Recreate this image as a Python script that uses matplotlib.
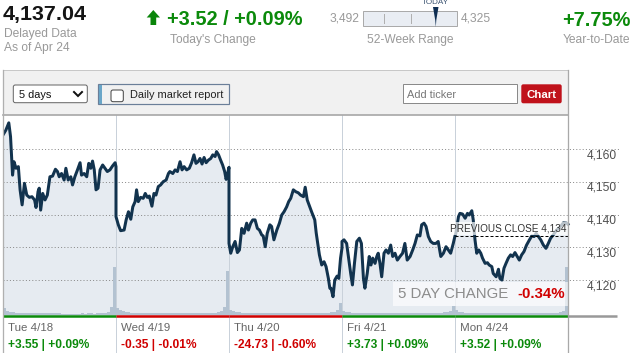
import numpy as np
import matplotlib.pyplot as plt
from matplotlib.patches import Rectangle, FancyBboxPatch, Polygon
from matplotlib.transforms import ScaledTranslation

plt.rcParams['font.family'] = ['Liberation Sans', 'DejaVu Sans']

W, H, DPI = 633, 353, 100


def pt(px):
    # pixel size -> points
    return px * 72 / DPI


# ---- data ----
days = ["Tue 4/18", "Wed 4/19", "Thu 4/20", "Fri 4/21", "Mon 4/24"]
day_chg = [3.55, -0.35, -24.73, 3.73, 3.52]
day_pct = [0.09, -0.01, -0.60, 0.09, 0.09]

last_price = 4137.04
today_chg = 3.52
today_pct = 0.09
low_52, high_52 = 3492, 4325
ytd_pct = 7.75
prev_close = 4133.52
five_day_pct = -0.34

# minutes since the open, index level
tue_t = [0, 10, 20, 26, 33, 38, 45, 53, 59, 66, 74, 82, 91, 100, 109, 114, 121, 125, 130, 137,
         145, 153, 162, 171, 181, 188, 194, 202, 211, 217, 225, 234, 240, 248, 257, 266, 271, 280,
         289, 296, 303, 309, 315, 321, 328, 335, 344, 352, 360, 369, 378, 387, 390]
tue_p = [4164.4, 4165.9, 4168.1, 4163.9, 4152.1, 4156.2, 4154.2, 4154.7, 4147.6, 4143.0,
         4149.6, 4146.0, 4145.3, 4145.5, 4144.5, 4142.2, 4147.1, 4148.1, 4141.4, 4146.5,
         4144.5, 4146.0, 4151.6, 4151.8, 4153.9, 4153.2, 4151.6, 4152.6, 4150.6, 4154.2,
         4150.6, 4151.6, 4149.1, 4151.6, 4153.7, 4155.9, 4152.1, 4152.6, 4151.6, 4155.7,
         4154.2, 4156.4, 4153.7, 4147.6, 4148.1, 4153.7, 4155.2, 4154.2, 4153.2, 4153.7,
         4154.9, 4155.9, 4154.7]

wed_t = [0, 8, 16, 28, 35, 43, 51, 58, 66, 71, 77, 85, 94, 101, 108, 115, 124, 131, 138, 146,
         154, 163, 173, 181, 186, 196, 204, 212, 221, 228, 235, 244, 253, 261, 269, 276, 283, 290,
         297, 304, 311, 319, 327, 334, 342, 347, 354, 361, 368, 375, 380, 384, 390]
wed_p = [4139.4, 4136.9, 4135.1, 4135.3, 4138.4, 4140.9, 4138.6, 4142.4, 4144.0, 4147.6,
         4144.0, 4145.3, 4145.0, 4146.5, 4145.3, 4145.7, 4142.6, 4146.5, 4146.0, 4148.6,
         4149.1, 4150.1, 4150.6, 4152.6, 4153.2, 4152.6, 4153.7, 4153.2, 4156.2, 4153.7,
         4154.7, 4153.7, 4154.2, 4155.9, 4158.3, 4155.7, 4156.2, 4157.2, 4155.5, 4157.5,
         4155.9, 4156.7, 4157.2, 4158.3, 4157.8, 4159.3, 4158.3, 4156.7, 4155.2, 4153.2,
         4150.8, 4152.1, 4154.5]

thu_t = [0, 6, 13, 21, 29, 36, 44, 52, 61, 67, 75, 82, 90, 98, 105, 113, 118, 125, 132, 141,
         147, 155, 165, 174, 182, 190, 199, 206, 213, 222, 231, 239, 247, 257, 263, 270, 285, 296,
         301, 312, 320, 328, 335, 343, 348, 352, 359, 365, 373, 379, 385, 390]
thu_p = [4131.2, 4128.2, 4130.2, 4131.8, 4128.4, 4129.2, 4135.8, 4134.3, 4137.4, 4135.3,
         4137.4, 4138.4, 4138.4, 4135.8, 4135.3, 4133.8, 4133.5, 4130.2, 4134.3, 4136.9,
         4136.4, 4132.3, 4135.3, 4137.4, 4139.9, 4140.9, 4142.4, 4144.0, 4145.0, 4147.6,
         4147.0, 4146.7, 4146.0, 4145.5, 4148.4, 4144.5, 4140.9, 4138.4, 4134.4, 4127.7,
         4124.6, 4125.6, 4124.1, 4120.5, 4117.5, 4117.5, 4114.9, 4120.0, 4121.2, 4120.5,
         4126.7, 4129.8]

fri_t = [0, 7, 16, 22, 30, 36, 43, 51, 60, 67, 74, 79, 87, 94, 100, 106, 114, 120, 125, 131,
         137, 145, 152, 160, 168, 175, 183, 191, 200, 209, 217, 225, 235, 244, 252, 260, 269, 275,
         283, 290, 298, 306, 315, 324, 332, 341, 350, 359, 367, 375, 384, 390]
fri_p = [4131.8, 4132.3, 4131.2, 4127.2, 4122.0, 4118.5, 4125.1, 4131.8, 4132.8, 4131.2,
         4120.5, 4117.5, 4122.0, 4127.2, 4124.6, 4126.7, 4125.1, 4127.2, 4128.2, 4125.1,
         4121.0, 4128.2, 4129.2, 4128.2, 4130.7, 4127.2, 4128.2, 4126.1, 4127.2, 4128.2,
         4131.2, 4126.1, 4127.2, 4129.2, 4131.2, 4133.8, 4133.5, 4136.9, 4137.4, 4136.4,
         4133.3, 4131.8, 4131.2, 4131.2, 4131.8, 4127.2, 4128.2, 4130.2, 4129.2, 4128.2,
         4131.2, 4133.5]

mon_t = [0, 3, 12, 17, 26, 35, 43, 49, 58, 63, 69, 75, 82, 89, 95, 104, 112, 118, 127, 132,
         142, 150, 155, 162, 169, 176, 184, 192, 199, 207, 215, 222, 230, 238, 247, 257, 265, 273,
         280, 288, 296, 305, 314, 322, 330, 339, 351, 362, 374, 385, 390]
mon_p = [4133.5, 4134.3, 4139.4, 4140.4, 4140.2, 4138.9, 4140.4, 4139.9, 4141.2, 4138.4,
         4132.3, 4128.2, 4129.2, 4128.2, 4126.7, 4125.1, 4125.3, 4124.6, 4124.1, 4122.0,
         4121.0, 4123.3, 4120.5, 4120.0, 4123.6, 4125.1, 4126.7, 4127.7, 4127.2, 4128.4,
         4127.2, 4126.1, 4127.7, 4128.7, 4130.7, 4132.3, 4133.5, 4133.3, 4134.3, 4133.3,
         4132.3, 4130.7, 4129.7, 4131.2, 4132.8, 4133.8, 4135.3, 4136.2, 4137.5, 4137.4,
         4137.04]

# volume per 10-minute bucket (39 per session), arbitrary units
tue_v = [67, 37, 30, 26, 24, 23, 25, 23, 22, 21, 22, 20, 21, 20, 19, 18, 18, 17, 17, 16,
         14, 15, 15, 15, 15, 15, 15, 16, 15, 17, 19, 15, 17, 18, 21, 22, 28, 80, 480]
wed_v = [67, 47, 37, 33, 28, 24, 22, 22, 20, 20, 19, 18, 18, 19, 17, 17, 17, 17, 16, 16,
         16, 17, 16, 16, 17, 16, 16, 17, 18, 18, 17, 18, 19, 20, 24, 35, 45, 80, 440]
thu_v = [50, 40, 32, 27, 25, 23, 22, 21, 21, 20, 20, 20, 19, 19, 18, 18, 18, 18, 18, 17,
         18, 18, 17, 17, 18, 18, 18, 19, 19, 20, 20, 20, 21, 22, 24, 28, 35, 50, 120]
fri_v = [45, 32, 26, 24, 22, 22, 21, 20, 20, 19, 19, 18, 18, 17, 17, 18, 17, 17, 17, 16,
         17, 17, 16, 16, 17, 18, 17, 18, 18, 19, 20, 20, 20, 22, 24, 27, 32, 45, 90]
mon_v = [47, 33, 27, 24, 22, 21, 20, 20, 19, 18, 18, 18, 17, 17, 17, 16, 16, 16, 16, 16,
         16, 16, 16, 16, 16, 17, 17, 17, 17, 18, 18, 18, 19, 20, 22, 24, 28, 40, 480]

times = [tue_t, wed_t, thu_t, fri_t, mon_t]
prices = [tue_p, wed_p, thu_p, fri_p, mon_p]
volumes = [tue_v, wed_v, thu_v, fri_v, mon_v]
grid_vals = [4120, 4130, 4140, 4150, 4160]

SESSION = 390
GREEN = '#0b8a0b'
RED = '#d00000'
GRAY = '#999999'

xs, ys = [], []
for i, (t, p) in enumerate(zip(times, prices)):
    xs += [i * SESSION + v for v in t]
    ys += p
end_x = len(days) * SESSION

fig = plt.figure(figsize=(W / DPI, H / DPI), dpi=DPI)


def frame(x0, y0, x1, y1):
    return [x0 / W, 1 - y1 / H, (x1 - x0) / W, (y1 - y0) / H]


# ---- price chart ----
ax = fig.add_axes(frame(3, 115, 620, 315))
ax.set_facecolor('none')
ax.set_xlim(0, end_x * 617 / 565)
ax.set_ylim(4109.3, 4170.5)
for s in ax.spines.values():
    s.set_visible(False)
ax.set_xticks([])
ax.set_yticks(grid_vals)
ax.tick_params(length=0, labelleft=False)
ax.yaxis.grid(True, color='#8a8a8a', linestyle=(0, (1, 2.2)), linewidth=pt(1))

ax.fill_between(xs, ys, 4100, color='#e6ebf1', lw=0, zorder=1)
ax.plot(xs, ys, color='#12334e', lw=pt(3.0), solid_joinstyle='round', zorder=3)

label_tr = ax.get_yaxis_transform() + ScaledTranslation(-3 / DPI, -6 / DPI, fig.dpi_scale_trans)
for v in grid_vals:
    ax.text(1, v, f"{v:,}", transform=label_tr, ha='right', va='center',
            fontsize=pt(12), color='#505050')

xtr = ax.get_xaxis_transform()
for i in range(1, len(days)):
    ax.axvline(i * SESSION, ymin=-0.19, ymax=1, color='#c9d1da', lw=pt(1),
               clip_on=False, zorder=1.6)

for i, c in enumerate(day_chg):
    col = GREEN if c >= 0 else RED
    ax.plot([i * SESSION, (i + 1) * SESSION], [-0.0065, -0.0065], transform=xtr,
            color=col, lw=pt(2.5), solid_capstyle='butt', clip_on=False)
    lab_tr = xtr + ScaledTranslation(5 / DPI, -16 / DPI, fig.dpi_scale_trans)
    ax.text(i * SESSION, 0, days[i], transform=lab_tr, fontsize=pt(11.5),
            color='#666666', va='baseline')
    chg_tr = xtr + ScaledTranslation(5 / DPI, -33 / DPI, fig.dpi_scale_trans)
    ax.text(i * SESSION, 0, f"{c:+.2f} | {day_pct[i]:+.2f}%", transform=chg_tr,
            fontsize=pt(12), color=col, fontweight='bold', va='baseline')

ax.plot([4 * SESSION, end_x], [prev_close, prev_close], color='black', lw=pt(1),
        dashes=(3, 2), zorder=4)
ax.annotate(f"PREVIOUS CLOSE {prev_close:,.0f}", xy=(end_x, prev_close), xytext=(-2, 2),
            textcoords='offset pixels', ha='right', va='bottom', fontsize=pt(10),
            color='#333333', zorder=5,
            bbox=dict(boxstyle='square,pad=0.15', fc='white', ec='none', alpha=0.7))

# volume bars
vax = ax.twinx()
vax.set_ylim(0, 2000)
vax.axis('off')
for i, v in enumerate(volumes):
    lefts = i * SESSION + np.arange(len(v)) * 10
    vax.bar(lefts, v, width=10, align='edge', color='#b3c2d1', lw=0)

# ---- page chrome, header, toolbar (pixel coordinates) ----
ui = fig.add_axes([0, 0, 1, 1], zorder=5)
ui.set_xlim(0, W)
ui.set_ylim(H, 0)
ui.axis('off')

ui.add_patch(Rectangle((2.5, 70), 565.5, 45, fc='#f1f1f1', ec='none'))
ui.plot([2.5, 568], [70, 70], color='#c8c8c8', lw=pt(1))
ui.plot([2.5, 568], [115, 115], color='#a9a9a9', lw=pt(1.7))
ui.plot([2.5, 2.5], [70, 353], color='#b0b0b0', lw=pt(1.3))
ui.plot([568, 568], [70, 353], color='#a9a9a9', lw=pt(1.3))
ui.plot([568, 617], [316.2, 316.2], color='#999999', lw=pt(2.5), solid_capstyle='butt')

# header
ui.text(3, 20, f"{last_price:,.2f}", fontsize=pt(21.5), fontweight='bold', color='#151515')
ui.text(4, 37, "Delayed Data", fontsize=pt(12), color=GRAY)
ui.text(4, 50.5, "As of Apr 24", fontsize=pt(12), color=GRAY)

ui.add_patch(Polygon([(146.7, 17.5), (153.3, 10), (160, 17.5), (156.2, 17.5),
                      (156.2, 25), (150.5, 25), (150.5, 17.5)], fc='#0a850a', ec='none'))
ui.text(167, 25.3, f"{today_chg:+.2f} / {today_pct:+.2f}%", fontsize=pt(20),
        fontweight='bold', color=GREEN)
ui.text(170, 43, "Today's Change", fontsize=pt(12), color=GRAY)

ui.text(359, 21.7, f"{low_52:,}", fontsize=pt(12), color=GRAY, ha='right')
ui.text(461, 21.7, f"{high_52:,}", fontsize=pt(12), color=GRAY)
ui.add_patch(Rectangle((363, 11), 94, 15, fc='#e9edf3', ec='#aaaaaa', lw=pt(1)))
for tx in (384, 411):
    ui.plot([tx, tx], [14, 23], color='#b0b0b0', lw=pt(1))
ui.add_patch(Polygon([(433, 7), (438.5, 7), (436.3, 20), (435.8, 27), (435.2, 20)],
                     fc='#0d2d52', ec='none'))
ui.text(435.8, 4, "TODAY", fontsize=pt(8.2), color='#3d5573', ha='center')
ui.text(410, 43, "52-Week Range", fontsize=pt(12), color=GRAY, ha='center')

ui.text(562, 25.5, f"{ytd_pct:+.2f}%", fontsize=pt(20), fontweight='bold', color=GREEN)
ui.text(563, 43, "Year-to-Date", fontsize=pt(12), color=GRAY)

# toolbar widgets
ui.add_patch(FancyBboxPatch((13.3, 85), 74, 17.7, boxstyle='round,pad=0,rounding_size=2',
                            fc='white', ec='#666666', lw=pt(1)))
ui.text(19, 98.5, "5 days", fontsize=pt(11), color='#111111')
ui.plot([74, 78, 82], [92, 96, 92], color='#111111', lw=pt(2), solid_joinstyle='miter')

ui.add_patch(Rectangle((98.3, 84.3), 130.4, 20, fc='#f1f1f1', ec='#6b7f99', lw=pt(1.2)))
ui.add_patch(Rectangle((98.8, 84.8), 3, 19, fc='#6aa6c8', ec='none'))
ui.add_patch(FancyBboxPatch((111, 90), 12.3, 11.7, boxstyle='round,pad=0,rounding_size=2',
                            fc='white', ec='#444444', lw=pt(1)))
ui.text(130.5, 98.5, "Daily market report", fontsize=pt(11), color='#222222')

ui.add_patch(Rectangle((403.3, 84.3), 114, 19, fc='white', ec='#8a8a8a', lw=pt(1)))
ui.text(407, 98.5, "Add ticker", fontsize=pt(11), color='#777777')
ui.add_patch(FancyBboxPatch((521.3, 84.3), 40.4, 19, boxstyle='round,pad=0,rounding_size=2',
                            fc='#c0121b', ec='none'))
ui.text(541.5, 98.3, "Chart", fontsize=pt(11.5), fontweight='bold', color='white',
        ha='center')

# 5 day change box
ui.add_patch(Rectangle((393, 282), 175, 24, fc='white', ec='none', alpha=0.65))
ui.text(398, 298.3, "5 DAY CHANGE", fontsize=pt(15), color='#8c8c8c')
ui.text(517, 298.3, f"{five_day_pct:.2f}%", fontsize=pt(15), fontweight='bold', color=RED)

fig.savefig('out.png', dpi=DPI)
